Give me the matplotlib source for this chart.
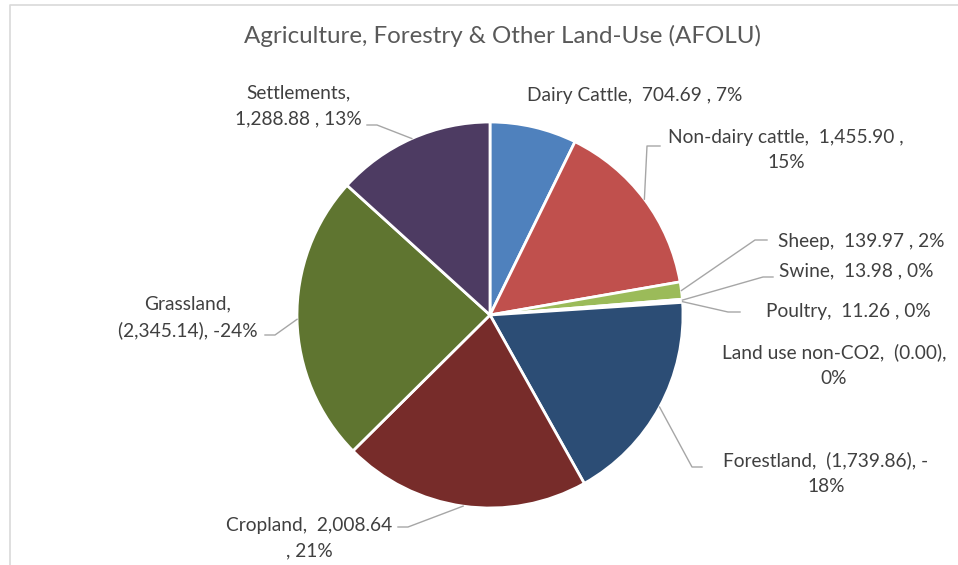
import math
import matplotlib
matplotlib.use("Agg")
import matplotlib.pyplot as plt
from matplotlib.lines import Line2D

plt.rcParams['font.family'] = ['Lato', 'DejaVu Sans']

# AFOLU emissions by source (negative = removals)
names = ["Dairy Cattle", "Non-dairy cattle", "Sheep", "Swine", "Poultry",
         "Land use non-CO2", "Forestland", "Cropland", "Grassland", "Settlements"]
values = [704.69, 1455.90, 139.97, 13.98, 11.26,
          -0.001, -1739.86, 2008.64, -2345.14, 1288.88]
colors = ["#4F81BD", "#C0504D", "#9BBB59", "#8064A2", "#4BACC6",
          "#F79646", "#2C4D75", "#772C2A", "#5F7530", "#4D3B62"]

W, H = 958, 565
CX, CY, R = 490, 315, 193   # pie centre / radius in pixels (y down)

# where each label sits, how it wraps, and the bends of its leader line
layout = [
    dict(xy=(635, 95), wrap=None, leader=None),
    dict(xy=(786, 150), wrap="pct", leader=[(647, 146), (660, 146)]),
    dict(xy=(861, 242), wrap=None, leader=[(755, 240), (767, 240)]),
    dict(xy=(856, 271), wrap=None, leader=[(763, 277), (773, 277)]),
    dict(xy=(848, 311), wrap=None, leader=[(728, 312), (740, 312)]),
    dict(xy=(834, 365), wrap="pct", leader=None),
    dict(xy=(826, 473), wrap="sign", leader=[(692, 467), (702, 467)]),
    dict(xy=(309, 538), wrap="value", leader=[(408, 527), (398, 527)]),
    dict(xy=(188, 317), wrap="name", leader=[(275, 335), (265, 335)]),
    dict(xy=(298, 106), wrap="name", leader=[(377, 125), (367, 125)]),
]


def fmt_val(v):
    if v < 0:
        return "({:,.2f})".format(-v)
    return "{:,.2f} ".format(v)


def whole_percents(sizes):
    # round shares so that they add up to 100 (largest remainder)
    tot = sum(sizes)
    raw = [s / tot * 100 for s in sizes]
    out = [int(math.floor(r)) for r in raw]
    left = 100 - sum(out)
    order = sorted(range(len(raw)), key=lambda i: raw[i] - out[i], reverse=True)
    for i in order[:left]:
        out[i] += 1
    return out


def make_label(name, v, pct, wrap):
    if v < 0 and pct > 0:
        pct = -pct
    val = fmt_val(v)
    pct_s = "{}%".format(pct)
    if wrap == "name":
        return "{},\n{}, {}".format(name, val, pct_s)
    if wrap == "value":
        return "{},  {}\n, {}".format(name, val.strip(), pct_s)
    if wrap == "pct":
        return "{},  {},\n{}".format(name, val, pct_s)
    if wrap == "sign":
        return "{},  {}, -\n{}".format(name, val, pct_s.lstrip("-"))
    return "{},  {}, {}".format(name, val, pct_s)


def px(x, y):
    return x, H - y


sizes = [abs(v) for v in values]
total = sum(sizes)
pcts = whole_percents(sizes)

fig = plt.figure(figsize=(W / 100, H / 100), dpi=100)
ax = fig.add_axes([0, 0, 1, 1])

ax.pie(sizes, colors=colors, startangle=90, counterclock=False,
       center=px(CX, CY), radius=R,
       wedgeprops=dict(edgecolor="white", linewidth=2.0))
ax.set_xlim(0, W)
ax.set_ylim(0, H)
ax.set_aspect("equal")
ax.axis("off")

# chart area border (only top and left show)
ax.add_line(Line2D([10, 10, W], [0, H - 5, H - 5], color="#D9D9D9", lw=1.2))

ax.text(*px(503, 36), "Agriculture, Forestry & Other Land-Use (AFOLU)",
        ha="center", va="center", fontsize=17.4, color="#595959")

cum = 0.0
for name, v, s, p, lay in zip(names, values, sizes, pcts, layout):
    mid = (cum + s / 2) / total
    cum += s
    txt = make_label(name, v, p, lay["wrap"])
    ax.text(*px(*lay["xy"]), txt, ha="center", va="center",
            multialignment="center", fontsize=13.8, color="#404040",
            linespacing=1.6)
    if lay["leader"]:
        ang = math.radians(90 - 360 * mid)
        x0 = CX + R * math.cos(ang)
        y0 = CY - R * math.sin(ang)
        pts = [(x0, y0)] + lay["leader"]
        xs = [q[0] for q in pts]
        ys = [H - q[1] for q in pts]
        ax.plot(xs, ys, color="#A6A6A6", lw=1.0)

fig.savefig("out.png", dpi=100, facecolor="white")
